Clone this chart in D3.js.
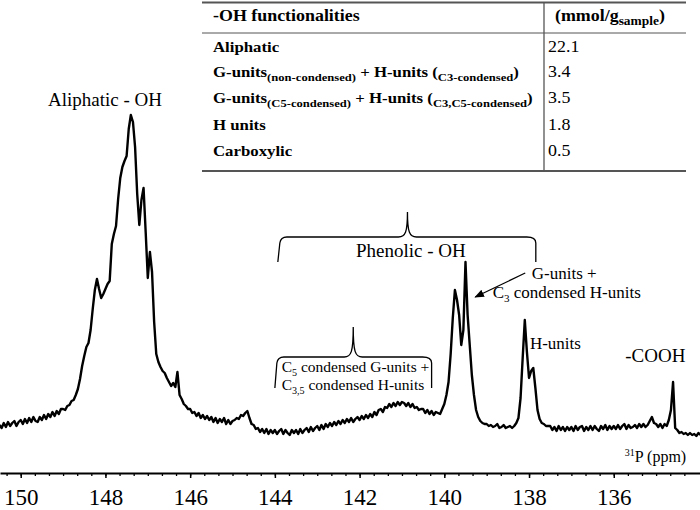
<!DOCTYPE html>
<html>
<head>
<meta charset="utf-8">
<script src="https://cdn.jsdelivr.net/npm/d3@7"></script>
<style>
body { margin: 0; background: #fff; }
svg { display: block; font-family: "Liberation Serif", "Times New Roman", serif; }
</style>
</head>
<body>
<svg width="700" height="510"></svg>
<script>
var ppmStart = 150.5, ppmStep = 0.05;
var intensity = [
  15, 12, 17, 13, 18, 14, 17, 19, 14, 18,
  20, 16, 21, 17, 22, 18, 23, 19, 18, 23,
  20, 25, 21, 26, 23, 28, 24, 29, 26, 31,
  31, 30, 34, 35, 39, 40, 45, 51, 61, 74,
  84, 93, 97, 110, 131, 150, 161, 151, 142, 146,
  151, 156, 159, 196, 206, 214, 241, 262, 273, 279,
  284, 311, 325, 318, 293, 246, 215, 240, 252, 208,
  162, 188, 168, 118, 86, 78, 73, 69, 67, 62,
  58, 54, 57, 53, 68, 45, 41, 36, 34, 31,
  31, 27, 28, 24, 27, 22, 25, 21, 24, 20,
  23, 18, 22, 17, 21, 18, 22, 16, 20, 16,
  19, 20, 22, 21, 25, 24, 27, 29, 22, 16,
  15, 11, 12, 8, 11, 7, 11, 6, 10, 7,
  10, 6, 9, 11, 6, 10, 7, 5, 10, 7,
  10, 6, 11, 7, 10, 12, 8, 13, 9, 12,
  14, 10, 15, 11, 16, 13, 17, 14, 18, 15,
  19, 16, 20, 17, 21, 18, 22, 18, 21, 23,
  20, 24, 21, 25, 22, 26, 23, 28, 25, 30,
  31, 28, 33, 32, 36, 33, 37, 34, 38, 35,
  38, 37, 34, 37, 33, 36, 32, 33, 30, 31,
  31, 27, 30, 26, 29, 25, 28, 27, 26, 31,
  36, 45, 58, 86, 122, 150, 140, 125, 95, 110,
  178, 125, 95, 65, 45, 30, 23, 19, 17, 16,
  16, 14, 15, 13, 14, 16, 12, 13, 15, 12,
  13, 14, 12, 14, 17, 22, 42, 82, 120, 88,
  62, 69, 72, 52, 30, 21, 17, 16, 14, 14,
  14, 10, 13, 9, 14, 10, 13, 9, 13, 10,
  13, 9, 14, 10, 13, 14, 9, 13, 10, 14,
  10, 14, 11, 9, 14, 11, 15, 10, 14, 11,
  14, 11, 15, 11, 14, 16, 11, 15, 12, 13,
  15, 12, 16, 13, 16, 13, 15, 19, 23, 17,
  16, 13, 16, 12, 16, 14, 20, 30, 58, 12,
  10, 7, 8, 6, 7, 5, 7, 5, 6, 4, 7, 5
];

var majorTicks = [150, 148, 146, 144, 142, 140, 138, 136];

// table of -OH contents
var tableHeader = [[["-OH functionalities", ""]], [["(mmol/g", ""], ["sample", "sub"], [")", ""]]];
var tableLabels = [
  [["Aliphatic", ""]],
  [["G-units", ""], ["(non-condensed)", "sub"], [" + H-units (", ""], ["C3-condensed", "sub"], [")", ""]],
  [["G-units", ""], ["(C5-condensed)", "sub"], [" + H-units (", ""], ["C3,C5-condensed", "sub"], [")", ""]],
  [["H units", ""]],
  [["Carboxylic", ""]]
];
var tableValues = ["22.1", "3.4", "3.5", "1.8", "0.5"];

// braces: [left ppm, right ppm, tip ppm, end level, bar level, tip level]
var braces = [
  [143.93, 137.84, 140.87, 178, 203, 228],
  [144.0, 140.30, 142.15, 52, 83, 113]
];

var svg = d3.select('svg');

var x = d3.scaleLinear()
    .domain([150.489, 133.964])
    .range([0, 700]);

var y = d3.scaleLinear()
    .domain([0, 325])
    .range([440, 115]);

var line = d3.line()
    .x(function(d, i) { return x(ppmStart - i * ppmStep); })
    .y(function(d) { return y(d); });

svg.append('path')
    .datum(intensity)
    .attr('d', line)
    .attr('fill', 'none')
    .attr('stroke', '#000')
    .attr('stroke-width', 2.4)
    .attr('stroke-linejoin', 'round');

// x axis
var minorTicks = d3.range(0, 50).map(function(k) { return 150.3333 - k / 3; })
    .filter(function(v) { return v > 134; });

svg.append('g')
    .attr('transform', 'translate(0,473)')
    .call(d3.axisBottom(x).tickValues(minorTicks).tickSize(3).tickSizeOuter(0).tickFormat(''))
    .call(function(g) { g.select('.domain').remove(); })
    .selectAll('line').attr('stroke-width', 1.3);

var xAxis = svg.append('g')
    .attr('transform', 'translate(0,473)')
    .call(d3.axisBottom(x).tickValues(majorTicks).tickSize(5).tickSizeOuter(0));

xAxis.select('.domain').attr('stroke-width', 2);
xAxis.selectAll('line').attr('stroke-width', 1.5);
xAxis.selectAll('text')
    .attr('y', 32)
    .attr('dy', 0)
    .style('font-family', '"Liberation Serif", serif')
    .style('font-size', '23px')
    .attr('fill', '#000');

var axisTitle = svg.append('text')
    .attr('x', x(134.29))
    .attr('y', y(-21.7))
    .attr('text-anchor', 'end')
    .style('font-size', '16px');
axisTitle.append('tspan').text('31').style('font-size', '10px').attr('dy', -6);
axisTitle.append('tspan').text('P (ppm)').attr('dy', 6);

// braces
svg.selectAll('.brace')
    .data(braces)
    .enter()
    .append('path')
    .attr('class', 'brace')
    .attr('fill', 'none')
    .attr('stroke', '#000')
    .attr('stroke-width', 1.3)
    .attr('d', function(b) {
      var x0 = x(b[0]), x1 = x(b[1]), xm = x(b[2]);
      var yE = y(b[3]), yB = y(b[4]), yT = y(b[5]);
      return 'M' + x0 + ',' + yE +
        ' L' + (x0 + 2) + ',' + (yB + 6) +
        ' Q' + (x0 + 3) + ',' + yB + ' ' + (x0 + 9) + ',' + yB +
        ' L' + (xm - 9) + ',' + yB +
        ' C' + (xm - 2) + ',' + yB + ' ' + xm + ',' + (yB - 5) + ' ' + xm + ',' + yT +
        ' C' + xm + ',' + (yB - 5) + ' ' + (xm + 2) + ',' + yB + ' ' + (xm + 9) + ',' + yB +
        ' L' + (x1 - 9) + ',' + yB +
        ' Q' + x1 + ',' + yB + ' ' + x1 + ',' + (yB + 6) +
        ' L' + x1 + ',' + yE;
    });

// arrow to the G-units peak
svg.append('defs').append('marker')
    .attr('id', 'arrow')
    .attr('viewBox', '0 0 10 10')
    .attr('refX', 9).attr('refY', 5)
    .attr('markerWidth', 8).attr('markerHeight', 8)
    .attr('orient', 'auto')
    .append('path')
    .attr('d', 'M0,1 L10,5 L0,9 Z')
    .attr('fill', '#000');

svg.append('line')
    .attr('x1', x(138.09)).attr('y1', y(167))
    .attr('x2', x(139.27)).attr('y2', y(143))
    .attr('stroke', '#000')
    .attr('stroke-width', 1.2)
    .attr('marker-end', 'url(#arrow)');

// annotations
function label(txt, ppm, h, size, anchor) {
  return svg.append('text')
      .attr('x', x(ppm))
      .attr('y', y(h))
      .attr('text-anchor', anchor)
      .style('font-size', size + 'px')
      .text(txt);
}
label('Aliphatic - OH', 148.01, 334, 19, 'middle');
label('Phenolic - OH', 140.79, 183.3, 19, 'middle');
label('G-units +', 137.17, 160.7, 17, 'middle');
label('H-units', 137.98, 90.7, 17, 'start');
label('-COOH', 135.73, 78.3, 19, 'start');

function subLabel(parts, ppm, h, size, anchor) {
  var t = svg.append('text')
      .attr('x', x(ppm))
      .attr('y', y(h))
      .attr('text-anchor', anchor)
      .style('font-size', size + 'px');
  var prevSub = false;
  parts.forEach(function(p) {
    var s = t.append('tspan').text(p[0]);
    if (p[1] === 'sub') {
      s.style('font-size', (size * 0.65) + 'px').attr('dy', 4);
      prevSub = true;
    } else {
      s.attr('dy', prevSub ? -4 : 0);
      prevSub = false;
    }
  });
  return t;
}
subLabel([['C', ''], ['3', 'sub'], [' condensed H-units', '']], 137.11, 141.7, 17, 'middle');
subLabel([['C', ''], ['5', 'sub'], [' condensed G-units +', '']], 143.84, 68.3, 15.5, 'start');
subLabel([['C', ''], ['3,5', 'sub'], [' condensed H-units', '']], 143.84, 50, 15.5, 'start');

// table
var table = svg.append('g');
table.append('line').attr('x1', 202).attr('x2', 686).attr('y1', 2.5).attr('y2', 2.5)
    .attr('stroke', '#555').attr('stroke-width', 1.8);
table.append('line').attr('x1', 202).attr('x2', 686).attr('y1', 33).attr('y2', 33)
    .attr('stroke', '#555').attr('stroke-width', 1);
table.append('line').attr('x1', 202).attr('x2', 686).attr('y1', 171).attr('y2', 171)
    .attr('stroke', '#555').attr('stroke-width', 1.8);
table.append('line').attr('x1', 544).attr('x2', 544).attr('y1', 2.5).attr('y2', 171)
    .attr('stroke', '#555').attr('stroke-width', 1.3);

function cell(parts, cx, cy, size, bold) {
  var t = table.append('text')
      .attr('transform', 'translate(' + cx + ',' + cy + ') scale(1.12,1)')
      .style('font-size', size + 'px')
      .style('font-weight', bold ? 'bold' : 'normal');
  var prevSub = false;
  parts.forEach(function(p) {
    var s = t.append('tspan').text(p[0]);
    if (p[1] === 'sub') {
      s.style('font-size', (size * 0.75) + 'px').attr('dy', prevSub ? 0 : 4);
      prevSub = true;
    } else {
      s.attr('dy', prevSub ? -4 : 0);
      prevSub = false;
    }
  });
}
cell(tableHeader[0], 213, 20.5, 16, true);
cell(tableHeader[1], 555, 20.5, 16, true);

var rowY = [51.5, 77, 103, 129.5, 156];
tableLabels.forEach(function(r, i) { cell(r, 213, rowY[i], 15, true); });
tableValues.forEach(function(v, i) { cell([[v, '']], 548, rowY[i], 16, false); });
</script>
</body>
</html>
